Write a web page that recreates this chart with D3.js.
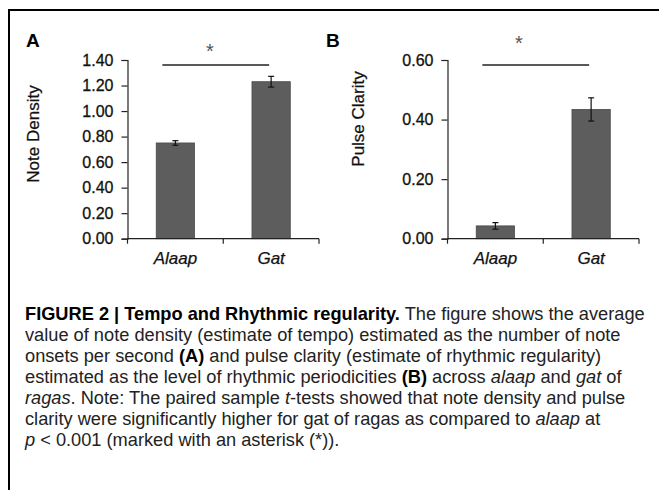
<!DOCTYPE html>
<html>
<head>
<meta charset="utf-8">
<script src="https://cdn.jsdelivr.net/npm/d3@7"></script>
<style>
    body { margin: 0; background: #fff; }
    svg { display: block; font-family: "Liberation Sans", Arial, sans-serif; }
</style>
</head>
<body>
<svg id="fig" width="659" height="490"></svg>
<script>
/** Categories shared by both panels */
const categories = ["Alaap", "Gat"];

/** Panel A: note density (onsets per second) */
const noteDensity = [0.75, 1.23];
const noteDensityErr = [0.018, 0.042];
const noteDensityTicks = [0, 0.2, 0.4, 0.6, 0.8, 1.0, 1.2, 1.4];

/** Panel B: pulse clarity */
const pulseClarity = [0.043, 0.434];
const pulseClarityErr = [0.011, 0.039];
const pulseClarityTicks = [0, 0.2, 0.4, 0.6];

/** Caption lines, each a list of [text, style] runs */
const captionLines = [
    [["FIGURE 2 | Tempo and Rhythmic regularity.", "b"], [" The figure shows the average", ""]],
    [["value of note density (estimate of tempo) estimated as the number of note", ""]],
    [["onsets per second ", ""], ["(A)", "b"], [" and pulse clarity (estimate of rhythmic regularity)", ""]],
    [["estimated as the level of rhythmic periodicities ", ""], ["(B)", "b"], [" across ", ""], ["alaap", "i"], [" and ", ""], ["gat", "i"], [" of", ""]],
    [["ragas", "i"], [". Note: The paired sample ", ""], ["t", "i"], ["-tests showed that note density and pulse", ""]],
    [["clarity were significantly higher for gat of ragas as compared to ", ""], ["alaap", "i"], [" at", ""]],
    [["p", "i"], [" < 0.001 (marked with an asterisk (*)).", ""]]
];

const svg = d3.select("#fig");

// frame (left and top edges only)
svg.append("path")
    .attr("d", "M9,490 V10 H659")
    .attr("fill", "none")
    .attr("stroke", "#000")
    .attr("stroke-width", 2);

/** Draws one bar panel */
function drawPanel(opts) {
    const g = svg.append("g");

    const x = d3.scaleBand()
        .domain(categories)
        .range([opts.left, opts.left + 191.5])
        .paddingInner(0.6)
        .paddingOuter(0.3);

    const y = d3.scaleLinear()
        .domain([0, opts.ticks[opts.ticks.length - 1]])
        .range([238.7, 60]);

    // bars
    g.selectAll("rect.bar")
        .data(opts.values)
        .join("rect")
        .attr("class", "bar")
        .attr("x", (d, i) => x(categories[i]))
        .attr("y", d => y(d))
        .attr("width", x.bandwidth())
        .attr("height", d => y(0) - y(d))
        .attr("fill", "#5d5d5d")
        .attr("stroke", "#4a4a4a")
        .attr("stroke-width", 0.8);

    // error bars
    const eb = g.selectAll("g.err")
        .data(opts.values)
        .join("g")
        .attr("class", "err")
        .attr("stroke", "#111")
        .attr("stroke-width", 1.2);
    const cx = (i) => x(categories[i]) + x.bandwidth() / 2;
    eb.append("line")
        .attr("x1", (d, i) => cx(i)).attr("x2", (d, i) => cx(i))
        .attr("y1", (d, i) => y(d - opts.errors[i]))
        .attr("y2", (d, i) => y(d + opts.errors[i]));
    eb.append("line")
        .attr("x1", (d, i) => cx(i) - 3).attr("x2", (d, i) => cx(i) + 3)
        .attr("y1", (d, i) => y(d - opts.errors[i]))
        .attr("y2", (d, i) => y(d - opts.errors[i]));
    eb.append("line")
        .attr("x1", (d, i) => cx(i) - 3).attr("x2", (d, i) => cx(i) + 3)
        .attr("y1", (d, i) => y(d + opts.errors[i]))
        .attr("y2", (d, i) => y(d + opts.errors[i]));

    // y axis
    const yAxis = d3.axisLeft(y)
        .tickValues(opts.ticks)
        .tickSize(6)
        .tickPadding(8)
        .tickFormat(d3.format(".2f"));
    const ya = g.append("g")
        .attr("transform", "translate(" + opts.left + ",0)")
        .call(yAxis);
    ya.select(".domain").attr("stroke", "#222").attr("stroke-width", 1.2);
    ya.selectAll(".tick line").attr("stroke", "#222").attr("stroke-width", 1.2);
    ya.selectAll(".tick text")
        .attr("fill", "#111")
        .attr("stroke", "#111")
        .attr("stroke-width", 0.3)
        .style("font-size", "16px")
        .style("font-family", "Liberation Sans, Arial, sans-serif");

    // x axis: line with ticks at category boundaries
    const gap = (x.step() - x.bandwidth()) / 2;
    const bounds = [x.range()[0], x(categories[1]) - gap, x.range()[1]];
    g.append("line")
        .attr("x1", x.range()[0]).attr("x2", x.range()[1])
        .attr("y1", y(0)).attr("y2", y(0))
        .attr("stroke", "#222").attr("stroke-width", 1.2);
    g.selectAll("line.xtick")
        .data(bounds)
        .join("line")
        .attr("class", "xtick")
        .attr("x1", d => d).attr("x2", d => d)
        .attr("y1", y(0)).attr("y2", y(0) + 5)
        .attr("stroke", "#222").attr("stroke-width", 1.2);
    g.selectAll("text.cat")
        .data(categories)
        .join("text")
        .attr("class", "cat")
        .attr("x", d => x(d) + x.bandwidth() / 2)
        .attr("y", 264)
        .attr("text-anchor", "middle")
        .style("font-size", "17px")
        .style("font-style", "italic")
        .attr("fill", "#111")
        .attr("stroke", "#111")
        .attr("stroke-width", 0.25)
        .text(d => d);

    // y axis title
    g.append("text")
        .attr("transform", "translate(" + opts.titleX + "," + opts.titleY + ") rotate(-90)")
        .attr("text-anchor", "middle")
        .style("font-size", "17px")
        .attr("fill", "#111")
        .attr("stroke", "#111")
        .attr("stroke-width", 0.25)
        .text(opts.title);

    // panel letter
    g.append("text")
        .attr("x", opts.letterX)
        .attr("y", 47)
        .style("font-size", "19px")
        .style("font-weight", "bold")
        .text(opts.letter);

    // significance line and asterisk
    g.append("line")
        .attr("x1", cx(0) - 13).attr("x2", cx(1) - 2)
        .attr("y1", 65).attr("y2", 65)
        .attr("stroke", "#222").attr("stroke-width", 1.3);
    g.append("text")
        .attr("x", opts.starX)
        .attr("y", opts.starY)
        .attr("text-anchor", "middle")
        .style("font-size", "20px")
        .attr("fill", "#555")
        .text("*");
}

drawPanel({
    left: 127.5, values: noteDensity, errors: noteDensityErr, ticks: noteDensityTicks,
    title: "Note Density", titleX: 39, titleY: 134,
    letter: "A", letterX: 26, starX: 210, starY: 58
});
drawPanel({
    left: 447.5, values: pulseClarity, errors: pulseClarityErr, ticks: pulseClarityTicks,
    title: "Pulse Clarity", titleX: 364, titleY: 119,
    letter: "B", letterX: 326, starX: 519, starY: 50
});

// caption
const cap = svg.append("g")
    .attr("fill", "#222")
    .style("font-size", "16px");
const capLines = cap.selectAll("text")
    .data(captionLines)
    .join("text")
    .attr("x", 25)
    .attr("y", (d, i) => 320 + i * 20.95);
capLines.selectAll("tspan")
    .data(d => d)
    .join("tspan")
    .style("font-weight", d => d[1] === "b" ? "bold" : null)
    .style("font-style", d => d[1] === "i" ? "italic" : null)
    .attr("fill", d => d[1] === "b" ? "#000" : null)
    .text(d => d[0]);

// scale the caption font so the first line spans the printed width
const w = capLines.node().getComputedTextLength();
cap.style("font-size", (16 * 620 / w).toFixed(2) + "px");
</script>
</body>
</html>
